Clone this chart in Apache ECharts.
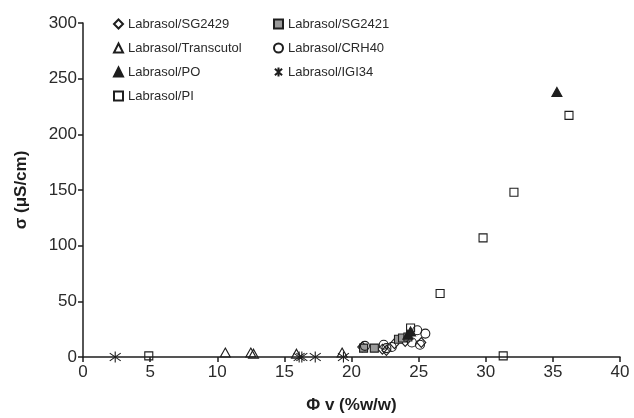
<!DOCTYPE html>
<html>
<head>
<meta charset="utf-8">
<script src="https://cdn.jsdelivr.net/npm/echarts@6/dist/echarts.min.js"></script>
<style>html,body{margin:0;padding:0;background:#fff}#c{width:634px;height:418px}</style>
</head>
<body>
<div id="c"></div>
<script>
// Data
const xTicks = [0, 5, 10, 15, 20, 25, 30, 35, 40];
const yTicks = [0, 50, 100, 150, 200, 250, 300];

const sg2429X = [20.8, 22.3, 22.6, 23.2, 24.0, 25.2];
const sg2429Y = [9, 7, 6, 12, 14, 13];

const sg2421X = [20.9, 21.7, 23.5, 23.8, 24.2];
const sg2421Y = [8, 8, 16, 17, 18];

const transcutolX = [10.6, 12.5, 12.7, 15.9, 19.3];
const transcutolY = [4, 4, 3, 3, 4];

const crh40X = [21.0, 22.4, 22.6, 23.0, 24.5, 24.9, 25.5, 25.1];
const crh40Y = [10, 11, 8, 9, 13, 24, 21, 11];

const poX = [24.2, 24.4, 35.3];
const poY = [20, 23, 238];

const igi34X = [2.4, 16.1, 16.3, 17.3, 19.4];
const igi34Y = [0, 0, 0, 0, 0];

const piX = [4.9, 24.4, 26.6, 29.8, 32.1, 36.2, 31.3];
const piY = [1, 26, 57, 107, 148, 217, 1];

const zip = (xs, ys) => xs.map((x, i) => [x, ys[i]]);
const dark = '#1e1e1e';
const font = 'Liberation Sans, Arial, sans-serif';
const asterisk = 'path://M5,0L5,10M1,1.5L9,8.5M1,8.5L9,1.5';

function s(name, xs, ys, symbol, size, fill) {
  return {
    name, type: 'scatter', data: zip(xs, ys), symbol, symbolSize: size,
    itemStyle: { color: fill, borderColor: dark, borderWidth: 1.1, opacity: 1 },
    emphasis: { disabled: true }
  };
}

const legendText = { fontSize: 13, lineHeight: 14, color: '#2a2a2a', fontFamily: font };

const chart = echarts.init(document.getElementById('c'), null, { renderer: 'canvas' });
chart.setOption({
  animation: false,
  backgroundColor: '#fff',
  textStyle: { fontFamily: font, color: dark },
  grid: { left: 83, right: 14, top: 23, bottom: 61, containLabel: false, outerBoundsMode: 'none' },
  legend: [
    {
      data: ['Labrasol/SG2429', 'Labrasol/Transcutol', 'Labrasol/PO', 'Labrasol/PI'],
      orient: 'vertical', left: 108, top: 12, itemWidth: 9, itemHeight: 9, itemGap: 10,
      textStyle: legendText
    },
    {
      data: ['Labrasol/SG2421', 'Labrasol/CRH40', 'Labrasol/IGI34'],
      orient: 'vertical', left: 268, top: 12, itemWidth: 9, itemHeight: 9, itemGap: 10,
      textStyle: legendText
    }
  ],
  xAxis: {
    type: 'value', min: xTicks[0], max: xTicks[xTicks.length - 1], interval: 5,
    name: 'Φ v (%w/w)', nameLocation: 'middle', nameGap: 40,
    nameTextStyle: { fontSize: 17, fontWeight: 'bold', color: dark, fontFamily: font },
    axisLine: { show: true, onZero: true, lineStyle: { color: dark, width: 1.5 } },
    axisTick: { show: true, length: 5, lineStyle: { color: dark, width: 1.5 } },
    axisLabel: { fontSize: 17, color: '#2a2a2a', margin: 7, fontFamily: font },
    splitLine: { show: false }
  },
  yAxis: {
    type: 'value', min: yTicks[0], max: yTicks[yTicks.length - 1], interval: 50,
    name: 'σ (μS/cm)', nameLocation: 'middle', nameGap: 53, nameRotate: 90,
    nameTextStyle: { fontSize: 17, fontWeight: 'bold', color: dark, fontFamily: font },
    axisLine: { show: true, lineStyle: { color: dark, width: 1.5 } },
    axisTick: { show: true, length: 5, lineStyle: { color: dark, width: 1.5 } },
    axisLabel: { fontSize: 17, color: '#2a2a2a', margin: 6, fontFamily: font },
    splitLine: { show: false }
  },
  series: [
    s('Labrasol/SG2429', sg2429X, sg2429Y, 'diamond', [9, 10], 'rgba(255,255,255,0)'),
    s('Labrasol/SG2421', sg2421X, sg2421Y, 'rect', 8, '#9a9a9a'),
    s('Labrasol/Transcutol', transcutolX, transcutolY, 'triangle', [10, 9], 'rgba(255,255,255,0)'),
    s('Labrasol/CRH40', crh40X, crh40Y, 'circle', 9, 'rgba(255,255,255,0)'),
    s('Labrasol/PO', poX, poY, 'triangle', [10, 9], dark),
    s('Labrasol/IGI34', igi34X, igi34Y, asterisk, 11, 'rgba(255,255,255,0)'),
    s('Labrasol/PI', piX, piY, 'rect', 8, 'rgba(255,255,255,0)')
  ]
});
</script>
</body>
</html>
